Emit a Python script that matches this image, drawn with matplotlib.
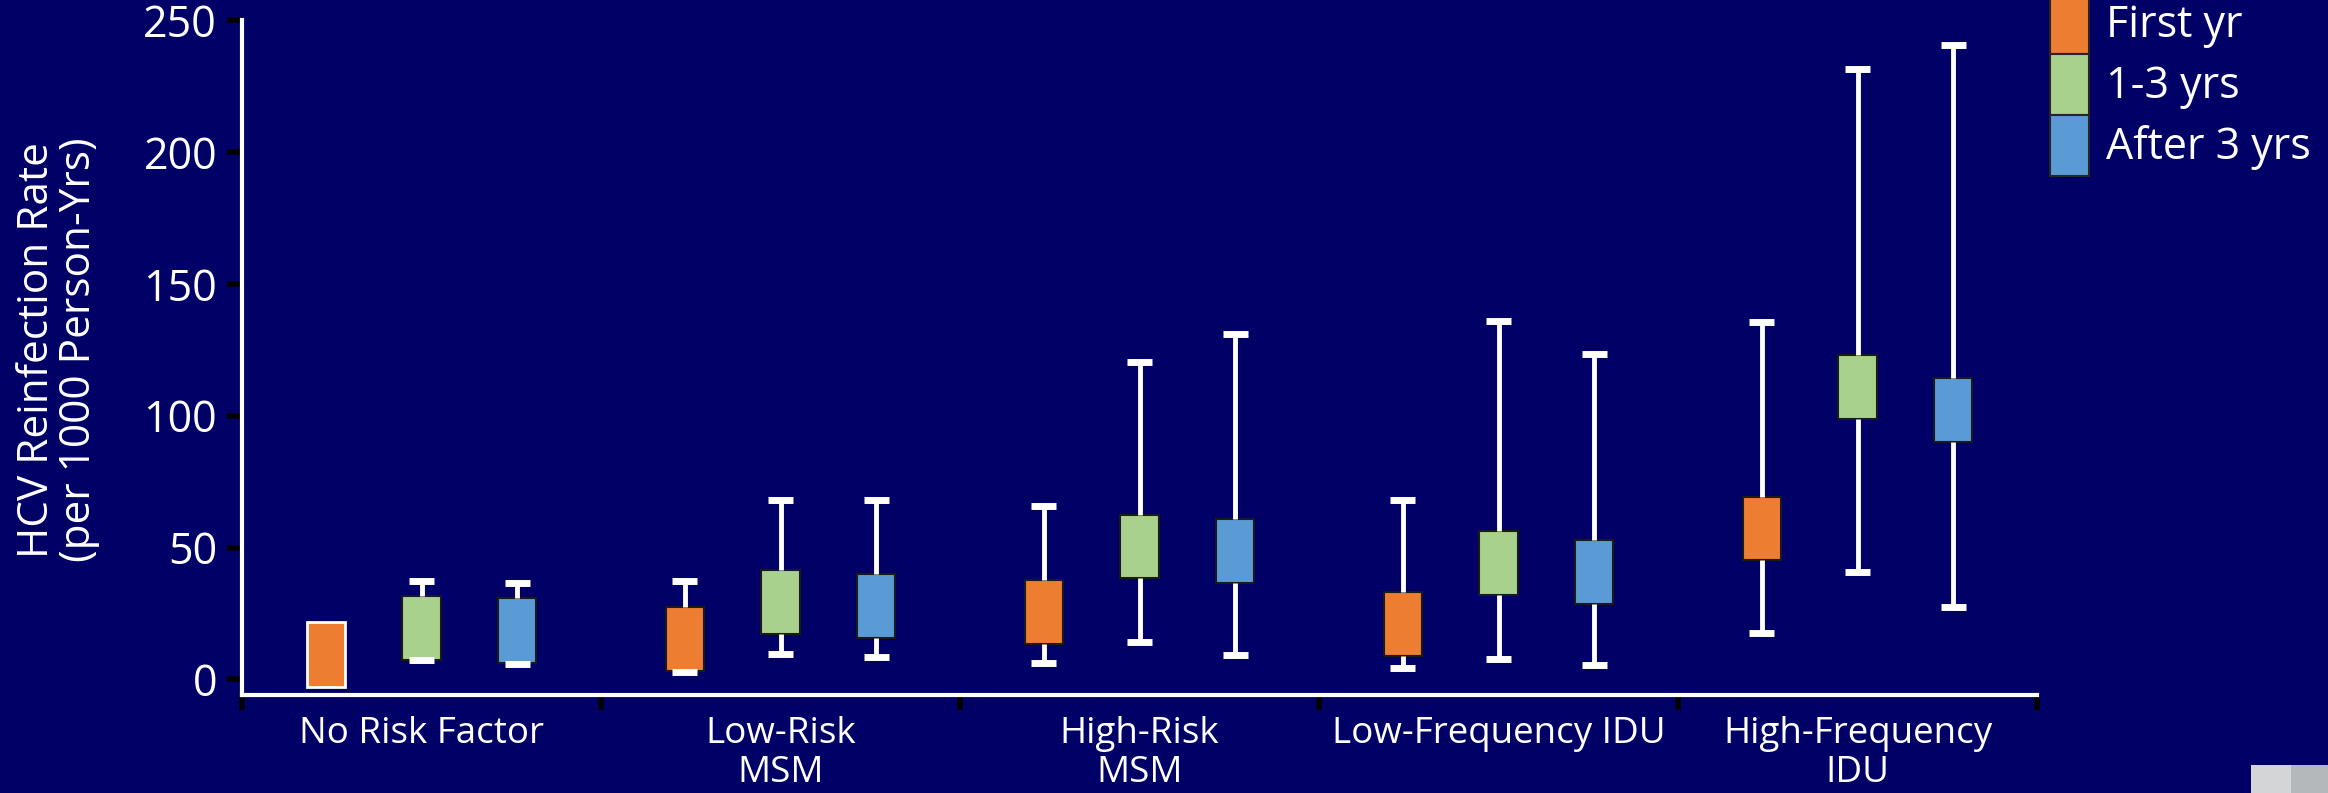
import matplotlib
matplotlib.use('Agg')
import matplotlib.pyplot as plt
from matplotlib.patches import Patch, Rectangle

# ---- data ----
categories = ['No Risk Factor', 'Low-Risk\nMSM', 'High-Risk\nMSM',
              'Low-Frequency IDU', 'High-Frequency\nIDU']
series = ['First yr', '1-3 yrs', 'After 3 yrs']
colors = ['#ED7D31', '#A9D18E', '#5B9BD5']

# whisker low, box low (q1), box high (q3), whisker high
first_lo = [-2.8, 2.8, 6.1, 4.2, 17.7]
first_q1 = [-2.8, 3.3, 13.5, 8.9, 45.2]
first_q3 = [21.7, 27.4, 37.7, 33.2, 69.0]
first_hi = [21.7, 37.3, 65.8, 68.1, 135.4]

mid_lo = [7.3, 9.5, 14.1, 7.8, 40.6]
mid_q1 = [7.5, 17.3, 38.3, 31.9, 98.9]
mid_q3 = [31.7, 41.5, 62.5, 56.2, 123.1]
mid_hi = [37.4, 68.0, 120.4, 136.0, 231.5]

late_lo = [6.0, 8.4, 9.3, 5.6, 27.5]
late_q1 = [6.3, 15.8, 36.7, 28.6, 90.1]
late_q3 = [30.7, 39.8, 61.0, 52.9, 114.2]
late_hi = [36.6, 68.0, 130.8, 123.5, 240.5]

all_series = [
    (first_lo, first_q1, first_q3, first_hi),
    (mid_lo, mid_q1, mid_q3, mid_hi),
    (late_lo, late_q1, late_q3, late_hi),
]

yticks = [0, 50, 100, 150, 200, 250]

# ---- style ----
FONT = 'Open Sans'
BG = '#010066'
W, H, DPI = 2328, 793, 100
fig = plt.figure(figsize=(W / DPI, H / DPI), dpi=DPI, facecolor=BG)
ax = fig.add_axes([242 / W, 1 - 695 / H, (2037 - 242) / W, (695 - 20) / H])
ax.set_facecolor(BG)

offsets = [-0.267, 0.0, 0.267]
for s_idx, (lo, q1, q3, hi) in enumerate(all_series):
    stats = []
    for i in range(len(categories)):
        stats.append(dict(whislo=lo[i], q1=q1[i], med=q1[i], q3=q3[i], whishi=hi[i], label=''))
    pos = [i + offsets[s_idx] for i in range(len(categories))]
    res = ax.bxp(stats, positions=pos, widths=0.106, patch_artist=True,
                 showfliers=False, manage_ticks=False, capwidths=0.07,
                 boxprops=dict(facecolor=colors[s_idx], edgecolor='#1a1a1a', linewidth=1.5),
                 whiskerprops=dict(color='white', linewidth=3.5, solid_capstyle='butt'),
                 capprops=dict(color='white', linewidth=5, solid_capstyle='butt'),
                 medianprops=dict(visible=False))
    for i in range(len(categories)):
        if lo[i] == q1[i] and hi[i] == q3[i]:
            # box without whiskers: white outline, no caps
            res['boxes'][i].set_edgecolor('white')
            res['boxes'][i].set_linewidth(2)
            for c in res['caps'][2 * i:2 * i + 2]:
                c.set_visible(False)
            for wk in res['whiskers'][2 * i:2 * i + 2]:
                wk.set_visible(False)

ax.set_xlim(-0.5, len(categories) - 0.5)
ax.set_ylim(-5.9, 250)

for sp in ['top', 'right']:
    ax.spines[sp].set_visible(False)
for sp in ['left', 'bottom']:
    ax.spines[sp].set_color('white')
    ax.spines[sp].set_linewidth(3)

ax.set_yticks(yticks)
ax.set_yticklabels([str(v) for v in yticks], family=FONT)
ax.tick_params(axis='y', colors='black', labelcolor='white', labelsize=31,
               length=11, width=4, pad=7)

ax.set_xticks(range(len(categories)))
ax.set_xticklabels(categories, family=FONT, linespacing=1.1)
ax.tick_params(axis='x', which='major', length=0, labelcolor='white', labelsize=26.5, pad=15)
ax.set_xticks([i - 0.5 for i in range(len(categories) + 1)], minor=True)
ax.tick_params(axis='x', which='minor', colors='black', length=11, width=4)

ax.set_ylabel('HCV Reinfection Rate\n(per 1000 Person-Yrs)', color='white',
              fontsize=30.5, family=FONT, va='center', linespacing=1.02)
ax.yaxis.set_label_coords((58 - 242) / 1795, (695 - 350) / 675)

handles = [Patch(facecolor=c, edgecolor='#262626', linewidth=1.5) for c in colors]
leg = ax.legend(handles, series, loc='upper left', bbox_to_anchor=(2050 / W, 1.0 + 7 / H),
                bbox_transform=fig.transFigure, frameon=False,
                prop=dict(family=FONT, size=31),
                handlelength=0.9, handleheight=1.8, handletextpad=0.4,
                labelspacing=0.0, borderpad=0.0, borderaxespad=0.0)
for t in leg.get_texts():
    t.set_color('white')

# corner logo fragment
fig.patches.append(Rectangle((2251 / W, 0), 40 / W, 28 / H, transform=fig.transFigure,
                             facecolor='#d3d5d7', edgecolor='none'))
fig.patches.append(Rectangle((2291 / W, 0), 37 / W, 28 / H, transform=fig.transFigure,
                             facecolor='#b5b8bb', edgecolor='none'))

fig.savefig('out.png', dpi=DPI, facecolor=BG)
